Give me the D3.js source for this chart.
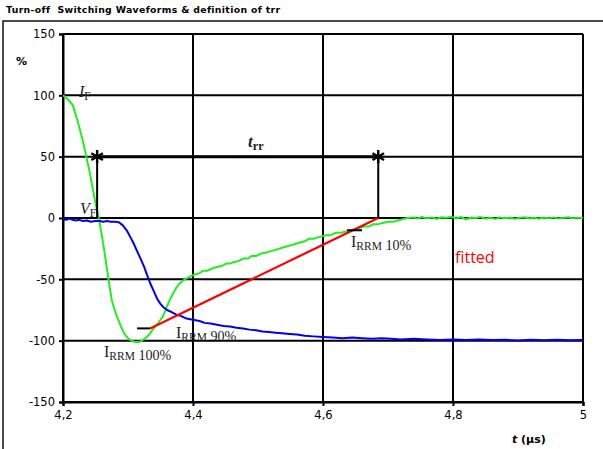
<!DOCTYPE html>
<html>
<head>
<meta charset="utf-8">
<script src="https://cdn.jsdelivr.net/npm/d3@7"></script>
<style>
  html, body { margin: 0; padding: 0; background: #fff; }
  svg { display: block; }
</style>
</head>
<body>
<svg id="chart" width="603" height="449"></svg>
<script>
// Axis ticks
const xTicks = [4.2, 4.4, 4.6, 4.8, 5.0];
const yTicks = [-150, -100, -50, 0, 50, 100, 150];

// Diode current (green), time in µs and value in % of IF
const currentT = [4.200,4.207,4.215,4.222,4.230,4.235,4.240,4.245,4.250,4.255,4.260,4.265,4.270,4.275,4.282,4.288,4.294,4.300,4.305,4.311,4.318,4.324,4.329,4.334,4.338,4.346,4.354,4.360,4.365,4.369,4.374,4.380,4.387,4.395,4.403,4.410,4.415,4.422,4.430,4.437,4.445,4.452,4.458,4.462,4.470,4.478,4.485,4.490,4.497,4.505,4.514,4.520,4.527,4.533,4.538,4.545,4.552,4.558,4.565,4.572,4.578,4.585,4.591,4.598,4.605,4.612,4.620,4.628,4.635,4.642,4.650,4.657,4.663,4.670,4.677,4.685,4.692,4.700,4.708,4.715,4.722,4.730,4.738,4.745,4.752,4.760,4.768,4.775,4.782,4.790,4.797,4.805,4.812,4.820,4.828,4.835,4.842,4.850,4.858,4.865,4.872,4.880,4.888,4.895,4.902,4.910,4.918,4.925,4.932,4.940,4.948,4.955,4.962,4.970,4.978,4.985,4.992,5.000];
const currentV = [100,97,92,80,64,52,40,26,12,0,-15,-32,-50,-67,-79,-87,-94,-98,-100,-101,-101,-99,-97,-94,-91,-86,-80,-72,-66,-62,-57,-53,-50,-48,-46,-45,-43,-43,-41,-40,-39,-37,-37,-36,-35,-33,-33,-31,-31,-29,-28,-27,-26,-25,-24,-23,-22,-21,-20,-19,-17,-17,-16,-15,-14,-14,-12,-12,-11,-10,-9,-8,-7,-7,-5,-5,-4,-3,-3,-2,-1,0,0.5,-0.5,0.8,-0.3,0.5,-0.8,0.6,0.2,1.0,-0.5,0.8,-1.2,0.4,0.0,0.9,-0.6,0.3,-0.9,0.5,-0.2,0.4,-0.7,0.2,0.6,-0.4,0.3,-0.6,0.4,-0.3,0.5,-0.5,0.2,0.6,-0.3,0.3,0.0];

// Diode voltage (blue), % of VR
const voltageT = [4.200,4.205,4.210,4.215,4.220,4.225,4.231,4.237,4.243,4.250,4.256,4.262,4.268,4.273,4.280,4.286,4.292,4.298,4.303,4.308,4.314,4.320,4.325,4.329,4.334,4.340,4.345,4.350,4.355,4.360,4.368,4.375,4.382,4.390,4.400,4.410,4.418,4.427,4.437,4.447,4.457,4.467,4.477,4.487,4.497,4.507,4.517,4.527,4.537,4.548,4.560,4.572,4.585,4.600,4.615,4.630,4.645,4.660,4.675,4.690,4.705,4.720,4.740,4.760,4.780,4.800,4.820,4.840,4.860,4.880,4.900,4.920,4.940,4.960,4.980,5.000];
const voltageV = [-1,-1.5,-0.5,-1.5,-2,-1.5,-2.5,-2,-3,-2.5,-2.5,-3,-2.5,-3,-3,-3.5,-6,-10,-15,-20,-27,-34,-40,-46,-53,-60,-66,-70,-73,-75,-77,-79,-80,-82,-83,-84,-85.5,-86,-87,-88,-88.5,-89.5,-90,-91,-91.5,-92.5,-93,-93.5,-94,-94.5,-95,-96,-96.5,-97,-97.5,-98,-97.5,-98,-98.5,-98,-98.5,-99,-98.5,-99,-99.5,-99,-99.5,-99,-99.5,-99.3,-99.8,-99.2,-99.6,-99.2,-99.7,-99.5];

// Straight line fitted through the 90 % and 10 % points of IRRM
const fitT = [4.334, 4.685];
const fitV = [-90, 0];

// Short markers at IRRM 90 % and IRRM 10 %
const markT0 = [4.314, 4.637];
const markT1 = [4.334, 4.660];
const markV = [-90, -10];

// trr interval, drawn at the 50 % level
const trrT = [4.2525, 4.685];
const trrLevel = 50;

const svg = d3.select("#chart");
const margin = { left: 63, right: 20, top: 34, bottom: 47 };
const W = 603, H = 449;

const x = d3.scaleLinear().domain([4.2, 5.0]).range([margin.left, W - margin.right]);
const y = d3.scaleLinear().domain([-150, 150]).range([H - margin.bottom, margin.top]);

// Outer frame
svg.append("rect")
  .attr("x", 3).attr("y", 21).attr("width", 640).attr("height", 460)
  .attr("fill", "none").attr("stroke", "#111").attr("stroke-width", 1.5);

// Title
svg.append("text")
  .attr("x", 6).attr("y", 13)
  .attr("font-family", "DejaVu Sans, Verdana, sans-serif")
  .attr("font-size", 9.3).attr("font-weight", "bold")
  .attr("letter-spacing", 0.35)
  .attr("xml:space", "preserve")
  .text("Turn-off  Switching Waveforms & definition of trr");

// Grid
const grid = svg.append("g").attr("stroke", "#000").attr("stroke-width", 2);
grid.selectAll("line.v").data(xTicks).join("line")
  .attr("x1", d => x(d)).attr("x2", d => x(d))
  .attr("y1", y(150)).attr("y2", y(-150));
grid.selectAll("line.h").data(yTicks).join("line")
  .attr("y1", d => y(d)).attr("y2", d => y(d))
  .attr("x1", x(4.2)).attr("x2", x(5.0));

// Axes (plain hyphen for negatives, comma as decimal separator)
const tickFont = "DejaVu Sans, Verdana, sans-serif";
const yAxis = svg.append("g")
  .attr("transform", `translate(${x(4.2)},0)`)
  .call(d3.axisLeft(y).tickValues(yTicks).tickSize(4).tickPadding(4).tickFormat(d => String(d)));
const xAxis = svg.append("g")
  .attr("transform", `translate(0,${y(-150)})`)
  .call(d3.axisBottom(x).tickValues(xTicks).tickSize(4).tickPadding(5)
    .tickFormat(d => String(+d.toFixed(1)).replace(".", ",")));
[xAxis, yAxis].forEach(a => {
  a.select(".domain").attr("stroke", "#000").attr("stroke-width", 2);
  a.selectAll(".tick line").attr("stroke", "#000").attr("stroke-width", 2);
  a.selectAll(".tick text").attr("font-family", tickFont).attr("font-size", 11.5).attr("fill", "#000");
});

// Axis titles
svg.append("text")
  .attr("x", 16).attr("y", 65)
  .attr("font-family", tickFont).attr("font-size", 11).attr("font-weight", "bold")
  .text("%");
const xt = svg.append("text")
  .attr("x", 512).attr("y", 443)
  .attr("font-family", tickFont).attr("font-size", 11).attr("font-weight", "bold");
xt.append("tspan").attr("font-style", "italic").text("t");
xt.append("tspan").text(" (µs)");

// Curves
const line = d3.line().x(d => x(d[0])).y(d => y(d[1]));
const currentPts = d3.zip(currentT, currentV);
const voltagePts = d3.zip(voltageT, voltageV);

svg.append("path").datum(currentPts)
  .attr("d", line).attr("fill", "none").attr("stroke", "#22ee22")
  .attr("stroke-width", 2).attr("stroke-linejoin", "round");
svg.append("path").datum(voltagePts)
  .attr("d", line).attr("fill", "none").attr("stroke", "#0000ee")
  .attr("stroke-width", 2).attr("stroke-linejoin", "round");
svg.append("path").datum(d3.zip(fitT, fitV))
  .attr("d", line).attr("fill", "none").attr("stroke", "#ff0000")
  .attr("stroke-width", 2.2);

// IRRM markers
svg.selectAll("line.mark").data(markV).join("line")
  .attr("x1", (d, i) => x(markT0[i])).attr("x2", (d, i) => x(markT1[i]))
  .attr("y1", d => y(d)).attr("y2", d => y(d))
  .attr("stroke", "#000").attr("stroke-width", 2);

// trr bracket
const trrG = svg.append("g").attr("stroke", "#000");
trrG.append("line")
  .attr("x1", x(trrT[0])).attr("x2", x(trrT[1]))
  .attr("y1", y(trrLevel)).attr("y2", y(trrLevel)).attr("stroke-width", 3);
trrG.selectAll("line.drop").data(trrT).join("line")
  .attr("x1", d => x(d)).attr("x2", d => x(d))
  .attr("y1", y(trrLevel)).attr("y2", y(0)).attr("stroke-width", 2);
trrG.selectAll("path.star").data(trrT).join("path")
  .attr("transform", d => `translate(${x(d)},${y(trrLevel)})`)
  .attr("d", d3.symbol(d3.symbolAsterisk, 125))
  .attr("fill", "none").attr("stroke-width", 2.4);

// Annotations
const serif = "Liberation Serif, DejaVu Serif, serif";
function subLabel(px, py, main, sub, tail, opts = {}) {
  const t = svg.append("text").attr("x", px).attr("y", py)
    .attr("font-family", serif).attr("font-size", opts.size || 15)
    .attr("fill", "#222");
  if (opts.clip) t.attr("clip-path", opts.clip);
  t.append("tspan").attr("font-style", opts.italic ? "italic" : "normal")
    .attr("font-weight", opts.bold ? "bold" : "normal").text(main);
  t.append("tspan").attr("font-size", (opts.size || 15) * 0.72).attr("dy", 3)
    .attr("font-weight", opts.bold ? "bold" : "normal").text(sub);
  if (tail) t.append("tspan").attr("font-size", (opts.size || 15) * 0.88).attr("dy", -0.5).text(tail);
  return t;
}

subLabel(79, 97, "I", "F", null, { italic: true, size: 16 });
subLabel(80, 214, "V", "F", null, { italic: true, size: 16 });
subLabel(248, 147, "t", "rr", null, { italic: true, bold: true, size: 17 });
subLabel(104, 357, "I", "RRM", " 100%", { size: 16 });

// IRRM 90 % label sits just above the -100 grid line
svg.append("clipPath").attr("id", "clip90")
  .append("rect").attr("x", 150).attr("y", 300).attr("width", 120).attr("height", y(-100) - 300 - 1);
subLabel(176, 338, "I", "RRM", " 90%", { size: 16, clip: "url(#clip90)" });
subLabel(351, 247, "I", "RRM", " 10%", { size: 16 });

svg.append("text")
  .attr("x", 455).attr("y", 263)
  .attr("font-family", "Open Sans, Liberation Sans, sans-serif")
  .attr("font-size", 16).attr("fill", "#ff0000")
  .text("fitted");
</script>
</body>
</html>
